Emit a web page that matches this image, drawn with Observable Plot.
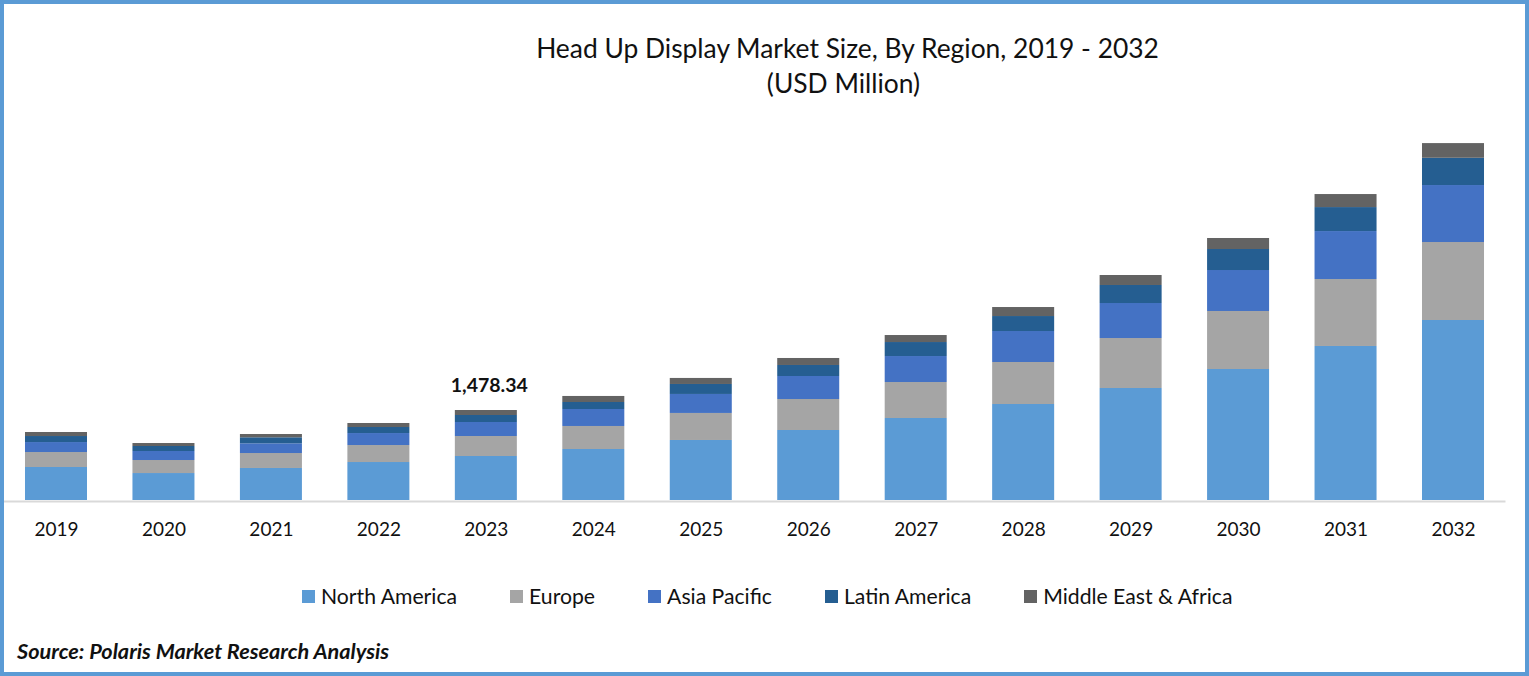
<!DOCTYPE html>
<html>
<head>
<meta charset="utf-8">
<script src="https://cdn.jsdelivr.net/npm/d3@7"></script>
<script src="https://cdn.jsdelivr.net/npm/@observablehq/plot@0.6"></script>
<style>
  html, body { margin: 0; padding: 0; background: white; }
  #frame { position: relative; width: 1529px; height: 676px; box-sizing: border-box; border: 4px solid #5b9bd5; overflow: hidden; font-family: Lato, sans-serif; color: #111; }
  #chart { position: absolute; left: -4px; top: -4px; width: 1529px; }
  #chart svg { max-width: none; }
  #title { position: absolute; left: 0; width: 1687px; top: 27px; text-align: center; font-size: 26.4px; line-height: 35px; }
  #title span { position: relative; left: -4px; }
  #legend { position: absolute; left: 298px; top: 577px; display: flex; gap: 53px; font-size: 21.2px; line-height: 30px; }
  .item { display: flex; align-items: center; gap: 6px; }
  .swatch { width: 13px; height: 13px; }
  #source { position: absolute; left: 13px; top: 632px; font-size: 21.7px; line-height: 30px; font-weight: 700; font-style: italic; }
</style>
</head>
<body>
<div id="frame">
  <div id="chart"></div>
  <div id="title">Head Up Display Market Size, By Region, 2019 - 2032<br><span>(USD Million)</span></div>
  <div id="legend"></div>
  <div id="source">Source: Polaris Market Research Analysis</div>
</div>
<script>
const years = [2019, 2020, 2021, 2022, 2023, 2024, 2025, 2026, 2027, 2028, 2029, 2030, 2031, 2032];
const regions = ["North America", "Europe", "Asia Pacific", "Latin America", "Middle East & Africa"];
const colors = ["#5b9bd5", "#a5a5a5", "#4472c4", "#255e91", "#636363"];

const northAmerica = [542, 443, 526, 624, 722.84, 838, 986, 1150, 1347, 1577, 1840, 2152, 2530, 2957];
const europe = [246, 214, 246, 279, 328.5, 378, 444, 509, 591, 690, 821, 953, 1100, 1281];
const asiaPacific = [164, 148, 159, 197, 230, 279, 312, 378, 427, 509, 575, 673, 788, 936];
const latinAmerica = [99, 82, 99, 99, 115, 115, 164, 181, 230, 246, 296, 345, 394, 448];
const middleEast = [66, 49, 54, 66, 82, 99, 99, 115, 115, 148, 164, 181, 214, 241];

const labelYear = [2023];
const labelValue = [1478.34];

const series = [northAmerica, europe, asiaPacific, latinAmerica, middleEast];
const rows = regions.flatMap((region, i) =>
  years.map((year, j) => ({year, region, value: series[i][j]}))
);

let chart = Plot.plot({
  width: 1529,
  height: 550,
  marginTop: 13,
  marginBottom: 50,
  marginLeft: 3.5,
  marginRight: 23.5,
  style: {background: "transparent", fontFamily: "Lato, sans-serif", color: "#111"},
  x: {domain: years, paddingInner: 0.423, paddingOuter: 0.2, round: false, label: null},
  y: {domain: [0, 8000], axis: null},
  color: {domain: regions, range: colors},
  marks: [
    Plot.barY(rows, {x: "year", y: "value", fill: "region"}),
    Plot.ruleY([0], {stroke: "#d9d9d9", strokeWidth: 2, dy: 1}),
    Plot.axisX({tickSize: 0, tickPadding: 22, fontSize: 19, tickFormat: d => String(d), label: null}),
    Plot.text(labelYear, {
      x: d => d,
      y: labelValue,
      text: labelValue.map(d3.format(",.2f")),
      dx: 3,
      dy: -25,
      fontSize: 19.5,
      fontWeight: 700,
      fill: "#111"
    })
  ]
});
document.querySelector("#chart").append(chart);

const legend = d3.select("#legend");
regions.forEach((region, i) => {
  const item = legend.append("div").attr("class", "item");
  item.append("div").attr("class", "swatch").style("background", colors[i]);
  item.append("div").text(region);
});
</script>
</body>
</html>
